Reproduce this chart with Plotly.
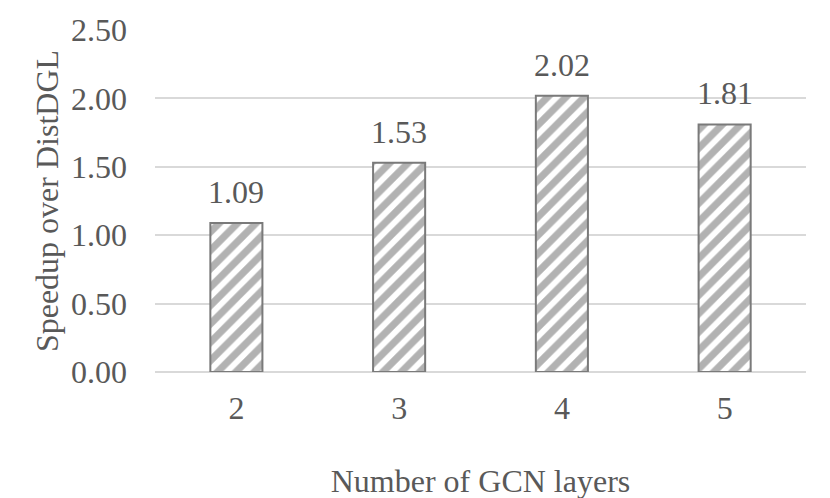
import plotly.graph_objects as go

layers = ["2", "3", "4", "5"]
speedup = [1.09, 1.53, 2.02, 1.81]
y_ticks = [0.0, 0.5, 1.0, 1.5, 2.0, 2.5]

FONT = "Liberation Serif, Times New Roman, serif"
GREY = "#595959"
SIZE = 32

fig = go.Figure(
    go.Bar(
        x=layers,
        y=speedup,
        width=0.32,
        marker=dict(
            color="white",
            line=dict(color="#7a7a7a", width=2),
            pattern=dict(shape="/", fgcolor="#666666", bgcolor="white",
                         size=13, solidity=0.55),
        ),
    )
)

# value labels above bars (category axis -> position by index)
for i, v in enumerate(speedup):
    fig.add_annotation(x=i, y=v, text=f"{v:.2f}", showarrow=False,
                       yanchor="bottom", yshift=11,
                       font=dict(family=FONT, size=SIZE, color=GREY))

# page body adds an 8px offset, margins account for it
fig.update_layout(
    width=830,
    height=498,
    margin=dict(l=147, r=32, t=22, b=134),
    plot_bgcolor="white",
    paper_bgcolor="white",
    showlegend=False,
    font=dict(family=FONT, size=SIZE, color=GREY),
    xaxis=dict(
        type="category",
        title=dict(text="Number of GCN layers", font=dict(size=SIZE, color=GREY), standoff=44),
        tickfont=dict(size=SIZE, color=GREY),
        showline=False,
        ticks="",
        ticklabelstandoff=14,
        automargin=False,
    ),
    yaxis=dict(
        title=dict(text="Speedup over DistDGL", font=dict(size=SIZE, color=GREY), standoff=2),
        range=[0, 2.5],
        tickvals=y_ticks,
        ticktext=[f"{v:.2f}" for v in y_ticks],
        tickfont=dict(size=SIZE, color=GREY),
        showgrid=True,
        gridcolor="#d9d9d9",
        gridwidth=1.5,
        zeroline=True,
        zerolinecolor="#d9d9d9",
        zerolinewidth=1.5,
        ticks="",
        ticklabelstandoff=27,
        automargin=False,
    ),
)

fig.write_html("out.html")
